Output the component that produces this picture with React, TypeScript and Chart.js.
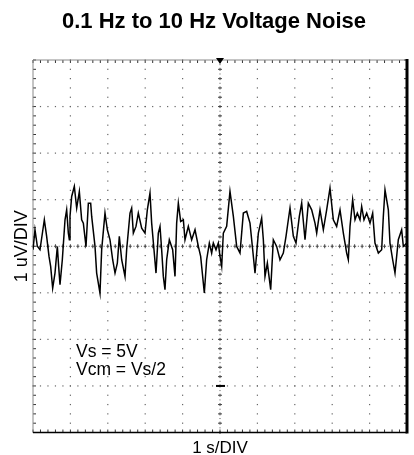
import React, { useEffect, useRef } from "react";
import { Chart, registerables } from "chart.js";

Chart.register(...registerables);

const TITLE = "0.1 Hz to 10 Hz Voltage Noise";
const X_LABEL = "1 s/DIV";
const Y_LABEL = "1 uV/DIV";
const NOTE_LINES = ["Vs = 5V", "Vcm = Vs/2"];

const X_MIN = 0;
const X_MAX = 10;
const Y_MIN = -4;
const Y_MAX = 4;

const TIME_S = [
  0.0, 0.053, 0.116, 0.187, 0.303, 0.365, 0.428, 0.472, 0.526, 0.588, 0.651, 0.686, 0.722, 0.784, 0.856,
  0.9, 0.945, 0.972, 0.989, 1.034, 1.105, 1.168, 1.239, 1.301, 1.346, 1.417, 1.48, 1.542, 1.569, 1.658,
  1.702, 1.791, 1.836, 1.925, 1.988, 2.059, 2.13, 2.193, 2.255, 2.308, 2.371, 2.46, 2.504, 2.594, 2.638,
  2.683, 2.754, 2.816, 2.906, 2.995, 3.057, 3.128, 3.173, 3.235, 3.289, 3.351, 3.396, 3.44, 3.485, 3.529,
  3.574, 3.645, 3.734, 3.797, 3.841, 3.886, 3.948, 4.02, 4.064, 4.153, 4.242, 4.332, 4.421, 4.483, 4.554,
  4.581, 4.643, 4.715, 4.777, 4.822, 4.893, 4.955, 5.0, 5.045, 5.089, 5.178, 5.267, 5.357, 5.446, 5.535,
  5.624, 5.713, 5.802, 5.874, 5.936, 6.025, 6.114, 6.159, 6.203, 6.266, 6.355, 6.426, 6.515, 6.604, 6.693,
  6.765, 6.827, 6.872, 6.961, 7.032, 7.121, 7.184, 7.273, 7.362, 7.451, 7.54, 7.585, 7.674, 7.763, 7.852,
  7.941, 8.03, 8.119, 8.209, 8.298, 8.387, 8.431, 8.476, 8.547, 8.61, 8.672, 8.743, 8.788, 8.85, 8.922,
  9.011, 9.082, 9.144, 9.234, 9.323, 9.367, 9.412, 9.501, 9.545, 9.617, 9.679, 9.768, 9.857, 9.902, 9.991,
  10.0,
];

const NOISE_UV = [
  -0.075, 0.354, 0.0, -0.075, 0.569, 0.211, -0.218, -0.433, -0.898, -0.576, -0.004, -0.433, -0.826, -0.29, 0.569,
  0.783, 0.283, 0.139, 0.64, 1.069, 1.284, 0.819, 1.177, 0.569, 0.497, -0.004, 0.926, 0.926, 0.64, -0.004,
  -0.576, -1.005, -0.075, 0.712, 0.354, 0.139, -0.29, -0.576, -0.361, 0.211, -0.29, -0.647, -0.075, 0.712, 0.819,
  0.283, 0.426, 0.712, 0.39, 0.283, 0.783, 1.141, 0.497, -0.075, -0.576, 0.283, 0.426, -0.075, -0.647, -0.934,
  -0.29, 0.139, -0.075, -0.647, 0.497, 0.926, 0.533, 0.569, 0.139, 0.426, 0.139, 0.354, -0.004, -0.218, -0.79,
  -1.005, -0.29, 0.068, -0.147, 0.068, -0.075, 0.068, -0.218, -0.433, 0.283, 0.426, 1.177, 0.64, -0.004, -0.147,
  0.712, 0.748, 0.497, -0.075, -0.576, 0.283, 0.604, 0.139, -0.647, -0.361, -0.934, 0.139, -0.004, -0.29, -0.147,
  0.211, 0.569, 0.819, 0.211, 0.068, 0.64, 0.926, 0.139, 0.926, 0.783, 0.497, 0.283, 0.783, 0.354, 0.783,
  1.248, 0.569, 0.426, 0.783, 0.283, -0.147, -0.29, 0.426, 0.998, 0.569, 0.712, 0.569, 0.855, 0.569, 0.712,
  0.497, 0.712, 0.068, -0.147, -0.075, 0.64, 1.212, 0.783, 0.068, -0.29, -0.576, 0.139, 0.354, -0.004, 0.068,
  -0.075,
];

const FONT = "'Liberation Sans', Arial, Helvetica, sans-serif";

const scopePlugin = {
  id: "scopeDecor",
  beforeDatasetsDraw(chart: any) {
    const { ctx, chartArea: a } = chart;
    const xs = chart.scales.x;
    const ys = chart.scales.y;
    const px = (v: number) => xs.getPixelForValue(v);
    const py = (v: number) => ys.getPixelForValue(v);
    ctx.save();

    // dotted major grid lines
    ctx.fillStyle = "#666";
    for (let i = X_MIN + 1; i < X_MAX; i++) {
      if (i === 5) continue;
      const x = px(i);
      for (let j = 0; j <= (Y_MAX - Y_MIN) * 5; j++) {
        const y = py(Y_MIN + j / 5);
        ctx.fillRect(x - 0.6, y - 0.6, 1.2, 1.2);
      }
    }
    for (let j = Y_MIN + 1; j < Y_MAX; j++) {
      if (j === 0) continue;
      const y = py(j);
      for (let i = 0; i <= (X_MAX - X_MIN) * 5; i++) {
        const x = px(X_MIN + i / 5);
        ctx.fillRect(x - 0.6, y - 0.6, 1.2, 1.2);
      }
    }

    // center cross lines with minor ticks
    ctx.strokeStyle = "#444";
    ctx.fillStyle = "#555";
    ctx.lineWidth = 1;
    const cx = px(5);
    const cy = py(0);
    for (let i = 0; i <= (X_MAX - X_MIN) * 10; i++) {
      const x = px(X_MIN + i / 10);
      if (i % 2 === 0) {
        ctx.beginPath();
        ctx.moveTo(x - 1.5, cy);
        ctx.lineTo(x + 1.5, cy);
        ctx.moveTo(x, cy - 2);
        ctx.lineTo(x, cy + 2);
        ctx.stroke();
      } else {
        ctx.fillRect(x - 0.5, cy - 0.5, 1, 1);
      }
    }
    for (let j = 0; j <= (Y_MAX - Y_MIN) * 10; j++) {
      const y = py(Y_MIN + j / 10);
      if (j % 2 === 0) {
        ctx.beginPath();
        ctx.moveTo(cx, y - 1.5);
        ctx.lineTo(cx, y + 1.5);
        ctx.moveTo(cx - 2, y);
        ctx.lineTo(cx + 2, y);
        ctx.stroke();
      } else {
        ctx.fillRect(cx - 0.5, y - 0.5, 1, 1);
      }
    }

    // edge ticks
    ctx.strokeStyle = "#333";
    for (let i = 0; i <= (X_MAX - X_MIN) * 5; i++) {
      const x = px(X_MIN + i / 5);
      ctx.beginPath();
      ctx.moveTo(x, a.top);
      ctx.lineTo(x, a.top + 3);
      ctx.moveTo(x, a.bottom);
      ctx.lineTo(x, a.bottom - 3);
      ctx.stroke();
    }
    for (let j = 0; j <= (Y_MAX - Y_MIN) * 5; j++) {
      const y = py(Y_MIN + j / 5);
      ctx.beginPath();
      ctx.moveTo(a.left, y);
      ctx.lineTo(a.left + 3, y);
      ctx.moveTo(a.right, y);
      ctx.lineTo(a.right - 3, y);
      ctx.stroke();
    }

    // frame
    ctx.strokeStyle = "#8a8a8a";
    ctx.lineWidth = 1;
    ctx.beginPath();
    ctx.moveTo(a.left, a.bottom);
    ctx.lineTo(a.left, a.top);
    ctx.lineTo(a.right, a.top);
    ctx.stroke();
    ctx.strokeStyle = "#000";
    ctx.lineWidth = 1.5;
    ctx.beginPath();
    ctx.moveTo(a.left, a.bottom);
    ctx.lineTo(a.right, a.bottom);
    ctx.stroke();
    ctx.lineWidth = 3;
    ctx.beginPath();
    ctx.moveTo(a.right, a.top - 1);
    ctx.lineTo(a.right, a.bottom + 1);
    ctx.stroke();

    // trigger marker and reference dash
    ctx.fillStyle = "#000";
    ctx.beginPath();
    ctx.moveTo(cx - 4, a.top - 2);
    ctx.lineTo(cx + 4, a.top - 2);
    ctx.lineTo(cx, a.top + 4);
    ctx.closePath();
    ctx.fill();
    ctx.fillRect(cx - 4, py(-3) - 1, 9, 2);

    ctx.restore();
  },
  afterDraw(chart: any) {
    const { ctx, chartArea: a } = chart;
    ctx.save();
    ctx.fillStyle = "#000";
    ctx.textBaseline = "alphabetic";

    ctx.textAlign = "center";
    ctx.font = `bold 22px ${FONT}`;
    ctx.fillText(TITLE, 214, 28);

    ctx.font = `17px ${FONT}`;
    ctx.fillText(X_LABEL, (a.left + a.right) / 2, 453);

    ctx.save();
    ctx.translate(27, (a.top + a.bottom) / 2);
    ctx.rotate(-Math.PI / 2);
    ctx.font = `18px ${FONT}`;
    ctx.fillText(Y_LABEL, 0, 0);
    ctx.restore();

    ctx.textAlign = "left";
    ctx.font = `17.5px ${FONT}`;
    ctx.fillText(NOTE_LINES[0], 76, 357);
    ctx.fillText(NOTE_LINES[1], 76, 375);
    ctx.restore();
  },
};

export default function App() {
  const ref = useRef<HTMLCanvasElement | null>(null);

  useEffect(() => {
    if (!ref.current) return;
    const points = TIME_S.map((t, i) => ({ x: t, y: NOISE_UV[i] }));
    const chart = new Chart(ref.current, {
      type: "line",
      data: {
        datasets: [
          {
            data: points,
            borderColor: "#000",
            borderWidth: 1.5,
            pointRadius: 0,
            tension: 0,
            fill: false,
          },
        ],
      },
      options: {
        animation: false,
        responsive: false,
        maintainAspectRatio: false,
        layout: { padding: { left: 33, right: 7, top: 60, bottom: 22.5 } },
        plugins: {
          legend: { display: false },
          tooltip: { enabled: false },
          title: { display: false },
        },
        scales: {
          x: { type: "linear", min: X_MIN, max: X_MAX, display: false },
          y: { type: "linear", min: Y_MIN, max: Y_MAX, display: false },
        },
      },
      plugins: [scopePlugin],
    });
    return () => chart.destroy();
  }, []);

  return (
    <div style={{ position: "absolute", left: 0, top: 0, width: 414, height: 455, background: "#fff" }}>
      <canvas ref={ref} width={414} height={455} style={{ width: 414, height: 455, display: "block" }} />
    </div>
  );
}
